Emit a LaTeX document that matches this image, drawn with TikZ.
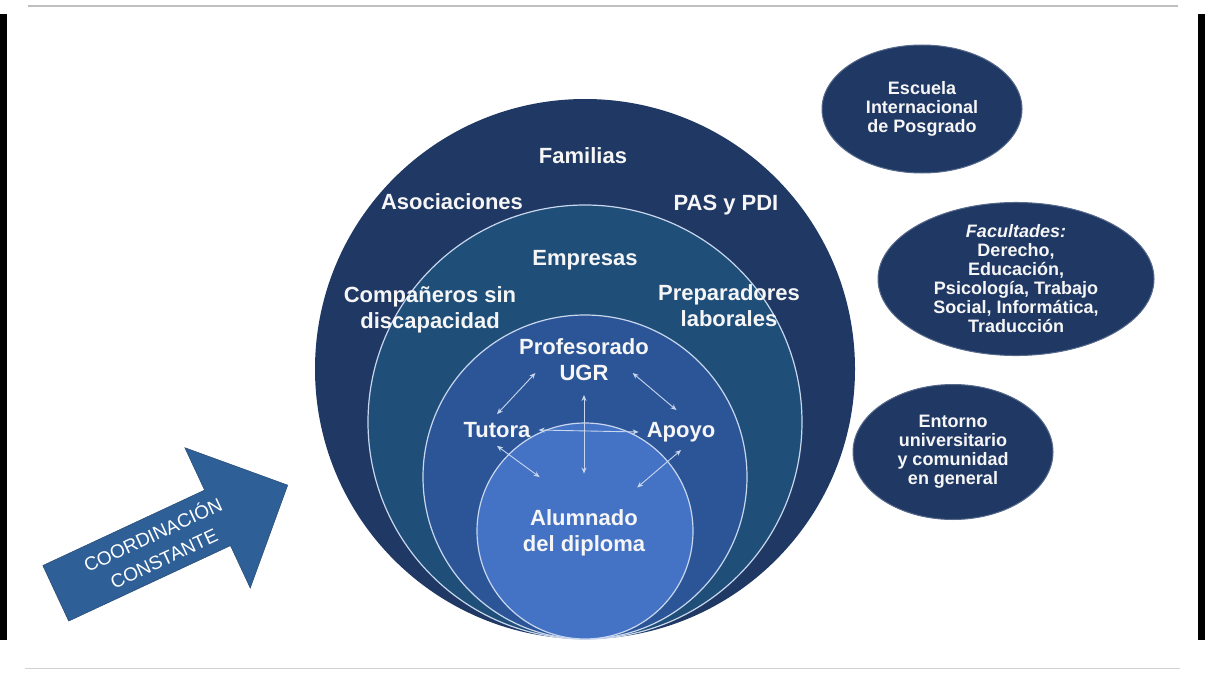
\documentclass[tikz,border=0pt]{standalone}
\usepackage{fontspec}
\setmainfont{Liberation Sans}
\usetikzlibrary{shapes.geometric,shapes.arrows,arrows.meta}
\definecolor{outerColor}{RGB}{31,56,100}
\definecolor{ringColor}{RGB}{31,78,121}
\definecolor{innerColor}{RGB}{44,85,152}
\definecolor{coreColor}{RGB}{68,114,196}
\definecolor{lineColor}{RGB}{200,215,238}
\definecolor{arrowColor}{RGB}{46,95,150}
\definecolor{textColor}{RGB}{246,246,246}

\begin{document}
\begin{tikzpicture}[x=1pt, y=-1pt,
    ringtext/.style={text=textColor, font=\bfseries\fontsize{22}{26}\selectfont, align=center, inner sep=0pt},
    facility/.style={ellipse, fill=outerColor, draw=outerColor!75!white, line width=1pt, text=textColor, font=\bfseries\fontsize{18}{19}\selectfont, align=center, inner sep=0pt},
    twoway/.style={{Stealth[length=6pt,width=5pt]}-{Stealth[length=6pt,width=5pt]}, draw=lineColor, line width=0.9pt}]
                \useasboundingbox (0,0) rectangle (1205,677);
                \fill[white] (0,0) rectangle (1205,677);
                \fill[black] (0,14) rectangle (7,640);
                \fill[black] (1198,14) rectangle (1205,640);
                \draw[gray!50, line width=1.2pt] (28,6) -- (1178,6);
                \draw[gray!35, line width=1pt] (25,668) -- (1180,668);
                \fill[outerColor] (585,369) circle (270);
                \filldraw[fill=ringColor, draw=lineColor, line width=1.2pt] (585,422) circle (217);
                \filldraw[fill=innerColor, draw=lineColor, line width=1.2pt] (585,477) circle (162);
                \filldraw[fill=coreColor, draw=lineColor, line width=1.2pt] (585,531) circle (108);
                \node[ringtext] (familias) at (583,156) {Familias};
                \node[ringtext] (asociaciones) at (452,202) {Asociaciones};
                \node[ringtext] (pas) at (726,205) {PAS y PDI};
                \node[ringtext] (empresas) at (585,260) {Empresas};
                \node[ringtext] (companeros) at (430,310) {Compañeros sin\\discapacidad};
                \node[ringtext] (preparadores) at (729,306) {Preparadores\\laborales};
                \node[ringtext] (prof) at (584,347) {Profesorado};
                \node[ringtext, inner xsep=24pt, inner ysep=14pt] (ugr) at (584,373) {UGR};
                \node[ringtext, inner sep=8pt] (tutora) at (497,430) {Tutora};
                \node[ringtext, inner sep=8pt] (apoyo) at (681,432) {Apoyo};
                \node[ringtext] (alumno) at (584,533) {Alumnado\\del diploma};
                \draw[twoway] (ugr.west) -- (tutora.north);
                \draw[twoway, shorten >=6pt] (ugr.east) -- (apoyo.north);
                \draw[twoway] (tutora.east) -- (apoyo.west);
                \draw[twoway, shorten >=36pt] (ugr.south) -- (alumno.north);
                \draw[twoway, shorten >=55pt] (tutora.south) -- (alumno.north);
                \draw[twoway, shorten >=70pt] (apoyo.south) -- (alumno.center);
                \node[facility, minimum width=200pt, minimum height=128pt] (escuela) at (922,109) {Escuela\\Internacional\\de Posgrado};
                \node[facility, minimum width=276pt, minimum height=152pt] (facultades) at (1016,279) {\textit{Facultades:}\\Derecho,\\Educación,\\Psicología, Trabajo\\Social, Informática,\\Traducción};
                \node[facility, minimum width=200pt, minimum height=135pt] (entorno) at (953,452) {Entorno\\universitario\\y comunidad\\en general};
                \node[single arrow, rotate=25, anchor=tip, fill=arrowColor, draw=arrowColor!70!black, minimum width=155pt, minimum height=256pt, single arrow head extend=38pt, text=white, font=\fontsize{19}{26}\selectfont, align=center] (coordinacion) at (288,485) {COORDINACIÓN\\CONSTANTE};
            \end{tikzpicture}
\end{document}
